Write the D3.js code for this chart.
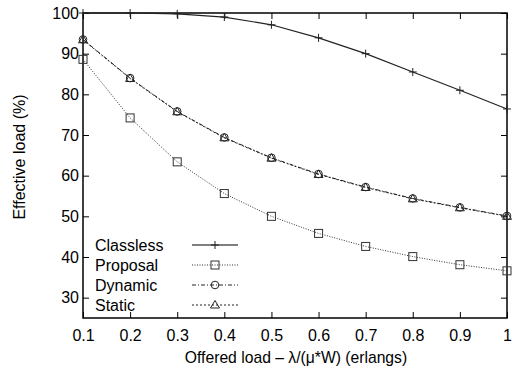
<!DOCTYPE html>
<html>
<head>
<meta charset="utf-8">
<script src="https://cdn.jsdelivr.net/npm/d3@7"></script>
<style>
  body { margin: 0; background: #fff; }
  text { font-family: "Liberation Sans", Arial, sans-serif; fill: #000; }
</style>
</head>
<body>
<div id="chart"></div>
<script>
// data
const loads = [0.1, 0.2, 0.3, 0.4, 0.5, 0.6, 0.7, 0.8, 0.9, 1.0];
const classless = [100, 100, 99.8, 99.0, 97.1, 93.9, 90.0, 85.5, 81.0, 76.4];
const proposal = [88.6, 74.2, 63.4, 55.6, 50.0, 45.8, 42.6, 40.1, 38.1, 36.6];
const dynamic = [93.5, 84.0, 75.8, 69.4, 64.4, 60.4, 57.2, 54.4, 52.2, 50.1];
const staticLoad = [93.4, 83.9, 75.7, 69.3, 64.3, 60.3, 57.1, 54.3, 52.1, 50.0];
const xTicks = [0.1, 0.2, 0.3, 0.4, 0.5, 0.6, 0.7, 0.8, 0.9, 1];
const yTicks = [30, 40, 50, 60, 70, 80, 90, 100];

const series = [
  {name: 'Classless', values: classless, dash: null, marker: 'plus', color: '#222', width: 1.2},
  {name: 'Proposal', values: proposal, dash: '1,1.5', marker: 'square', color: '#333', width: 1},
  {name: 'Dynamic', values: dynamic, dash: '4,2,1,2', marker: 'circle', color: '#222', width: 1},
  {name: 'Static', values: staticLoad, dash: '2,2', marker: 'triangle', color: '#222', width: 1}
];

const width = 513, height = 371;
const margin = {top: 13, right: 6, bottom: 53, left: 83};

const svg = d3.select('#chart')
    .append('svg')
    .attr('width', width)
    .attr('height', height);

const x = d3.scaleLinear().domain([0.1, 1]).range([margin.left, width - margin.right]);
const y = d3.scaleLinear().domain([25, 100]).range([height - margin.bottom, margin.top]);

const tickLen = 6;

// axes with inward ticks, mirrored on top/right
svg.append('g')
    .attr('transform', `translate(0,${y(25)})`)
    .call(d3.axisBottom(x).tickValues(xTicks).tickSizeInner(-tickLen).tickSizeOuter(0)
        .tickPadding(12).tickFormat(d => d3.format('')(+d.toFixed(1))))
    .call(g => g.select('.domain').remove())
    .call(g => g.selectAll('text').style('font-size', '16px'));

svg.append('g')
    .attr('transform', `translate(0,${y(100)})`)
    .call(d3.axisTop(x).tickValues(xTicks).tickSizeInner(-tickLen).tickSizeOuter(0).tickFormat(''))
    .call(g => g.select('.domain').remove());

svg.append('g')
    .attr('transform', `translate(${x(0.1)},0)`)
    .call(d3.axisLeft(y).tickValues(yTicks).tickSizeInner(-tickLen).tickSizeOuter(0).tickPadding(4))
    .call(g => g.select('.domain').remove())
    .call(g => g.selectAll('text').style('font-size', '16px'));

svg.append('g')
    .attr('transform', `translate(${x(1)},0)`)
    .call(d3.axisRight(y).tickValues(yTicks).tickSizeInner(-tickLen).tickSizeOuter(0).tickFormat(''))
    .call(g => g.select('.domain').remove());

svg.selectAll('.tick line').attr('stroke', '#000').attr('stroke-width', 1);

// frame
svg.append('rect')
    .attr('x', x(0.1))
    .attr('y', y(100))
    .attr('width', x(1) - x(0.1))
    .attr('height', y(25) - y(100))
    .attr('fill', 'none')
    .attr('stroke', '#000')
    .attr('stroke-width', 1.5);

// axis titles
svg.append('text')
    .attr('x', 296)
    .attr('y', 363)
    .attr('text-anchor', 'middle')
    .style('font-size', '15.7px')
    .text('Offered load \u2013 \u03bb/(\u03bc*W) (erlangs)');

svg.append('text')
    .attr('transform', `translate(25,157) rotate(-90)`)
    .attr('text-anchor', 'middle')
    .style('font-size', '16px')
    .text('Effective load (%)');

function drawMarker(g, type, cx, cy, color) {
  if (type === 'plus') {
    g.append('path').attr('d', `M${cx - 4},${cy}H${cx + 4}M${cx},${cy - 4}V${cy + 4}`)
        .attr('stroke', color).attr('stroke-width', 1);
  } else if (type === 'square') {
    g.append('rect').attr('x', cx - 4).attr('y', cy - 4).attr('width', 8).attr('height', 8)
        .attr('fill', 'none').attr('stroke', color).attr('stroke-width', 1);
  } else if (type === 'circle') {
    g.append('circle').attr('cx', cx).attr('cy', cy).attr('r', 3.8)
        .attr('fill', 'none').attr('stroke', color).attr('stroke-width', 1);
  } else if (type === 'triangle') {
    g.append('path').attr('d', `M${cx},${cy - 4.5}L${cx + 4.5},${cy + 3}L${cx - 4.5},${cy + 3}Z`)
        .attr('fill', 'none').attr('stroke', color).attr('stroke-width', 1);
  }
}

const line = d3.line().x(d => x(d[0])).y(d => y(d[1]));

series.forEach(s => {
  const pts = loads.map((l, i) => [l, s.values[i]]);
  const g = svg.append('g');
  g.append('path')
      .attr('d', line(pts))
      .attr('fill', 'none')
      .attr('stroke', s.color)
      .attr('stroke-width', s.width)
      .attr('stroke-dasharray', s.dash);
  pts.forEach(p => drawMarker(g, s.marker, x(p[0]), y(p[1]), s.color));
});

// legend
const legend = svg.append('g');
series.forEach((s, i) => {
  const ly = 245 + i * 20;
  legend.append('text')
      .attr('x', 95)
      .attr('y', ly)
      .attr('dy', '0.35em')
      .style('font-size', '16px')
      .text(s.name);
  legend.append('line')
      .attr('x1', 192).attr('x2', 238)
      .attr('y1', ly).attr('y2', ly)
      .attr('stroke', s.name === 'Classless' ? '#555' : s.color)
      .attr('stroke-width', s.name === 'Classless' ? 1.6 : s.width)
      .attr('stroke-dasharray', s.dash);
  drawMarker(legend, s.marker, 215, ly, s.color);
});
</script>
</body>
</html>
